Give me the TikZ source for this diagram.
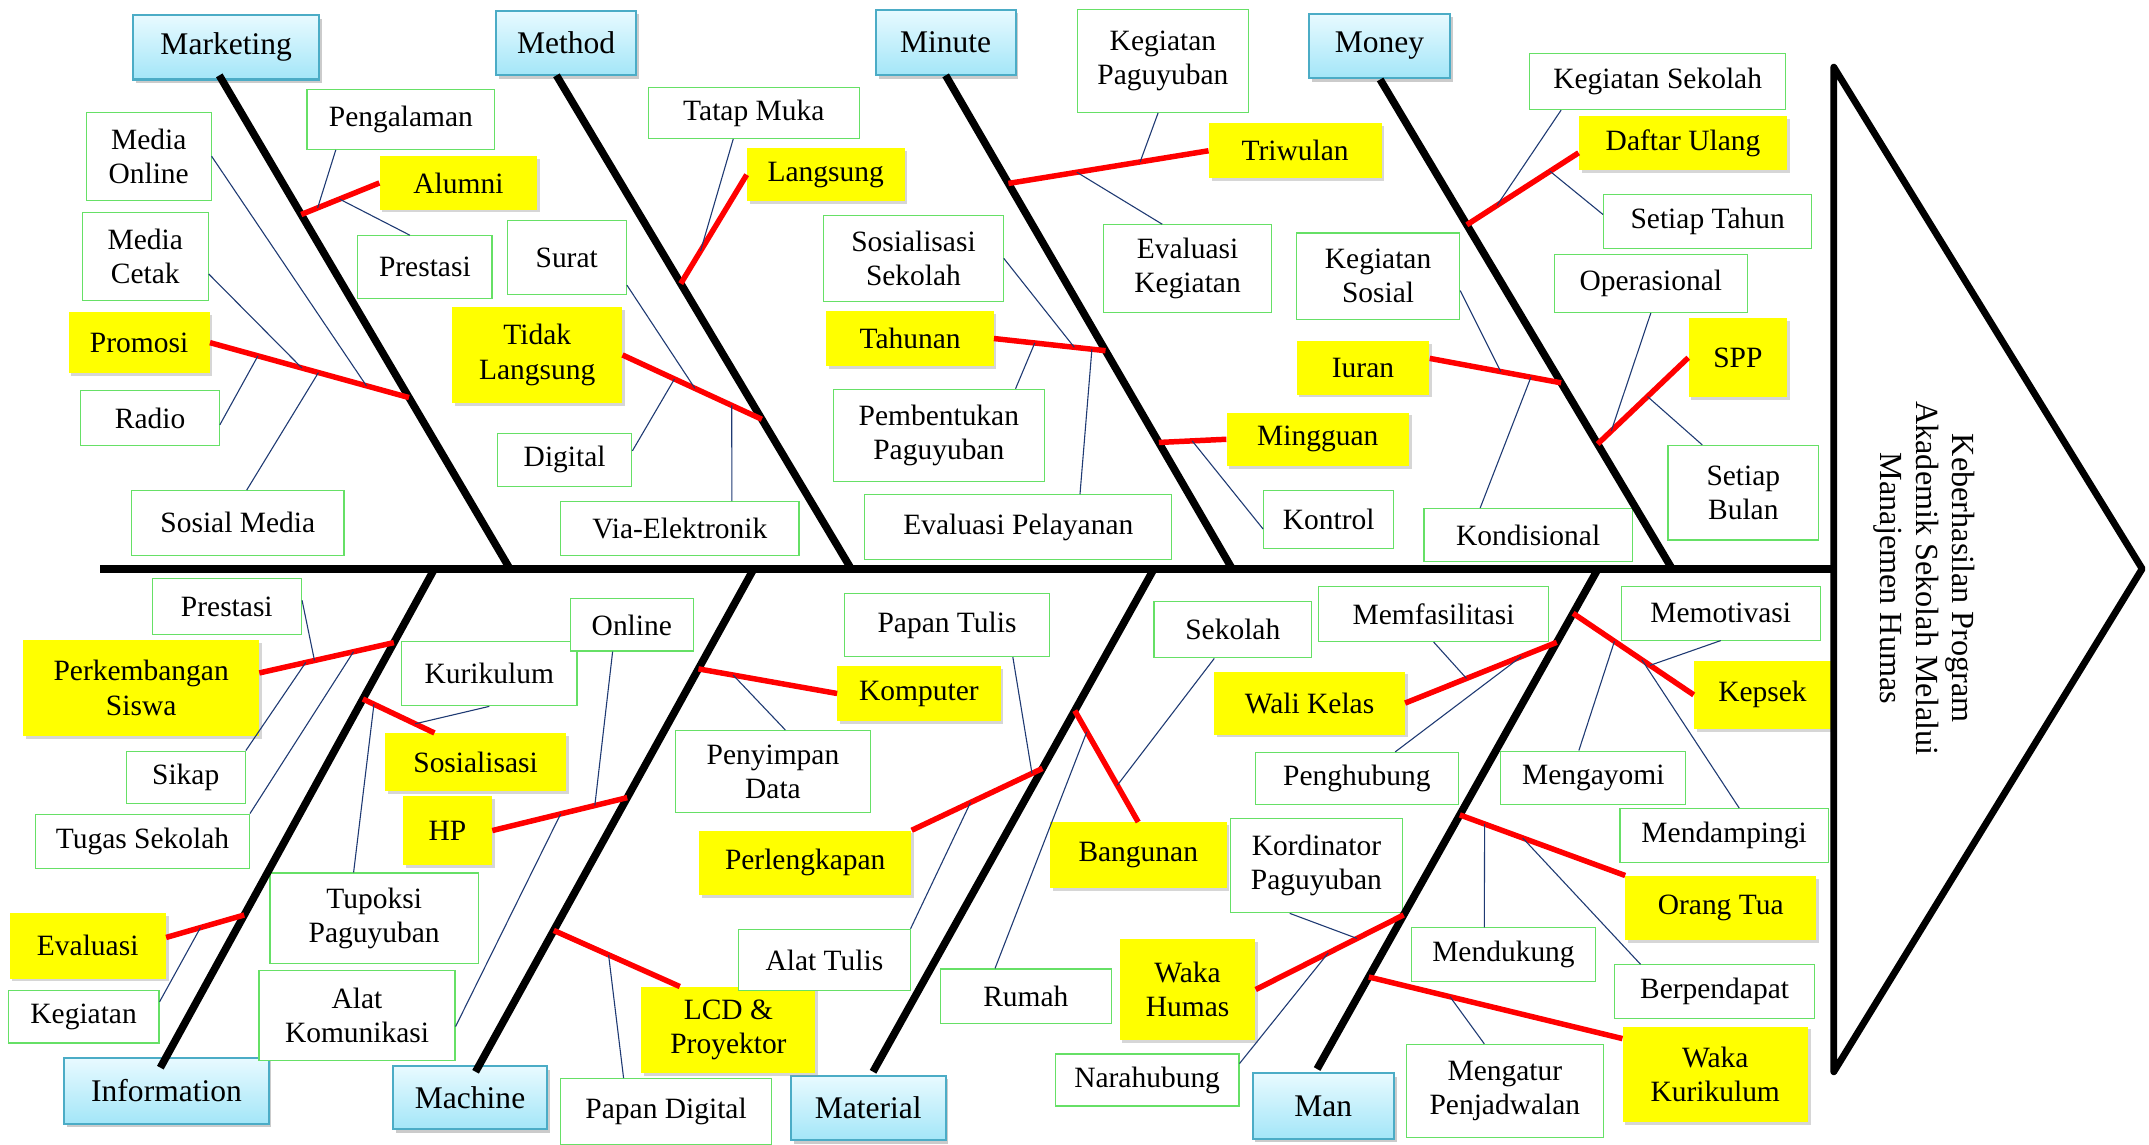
\documentclass[tikz,border=0pt]{standalone}
\usepackage{fontspec}
\setmainfont{Liberation Serif}
\usetikzlibrary{calc,shadows}

\definecolor{catline}{HTML}{4BACC6}
\definecolor{cattop}{HTML}{E8FAFF}
\definecolor{catbot}{HTML}{A3E6F8}
\definecolor{boxline}{HTML}{66E066}
\definecolor{twigblue}{HTML}{1F3A73}
\definecolor{hiyellow}{HTML}{FFFF00}

\tikzset{
  txt/.style={align=center, inner sep=0pt, font=\fontsize{21.5}{25}\selectfont},
  sz/.style 2 args={minimum width=#1, minimum height=#2},
  cat/.style={txt, font=\fontsize{23}{26}\selectfont, draw=catline, line width=1.5pt,
    top color=cattop, bottom color=catbot,
    drop shadow={shadow xshift=2pt, shadow yshift=-2.5pt, fill=black!45, opacity=.45}},
  sub/.style={txt, draw=boxline, line width=0.8pt, fill=white},
  hot/.style={txt, fill=hiyellow,
    drop shadow={shadow xshift=2pt, shadow yshift=-2pt, fill=black!40, opacity=.4}},
  bone/.style={line width=5.5pt, black},
  redbone/.style={line width=4pt, red},
  twig/.style={line width=0.8pt, twigblue},
}

\begin{document}
\begin{tikzpicture}[x=1pt, y=-1pt]
  \useasboundingbox (0,0) rectangle (1568,835);

  % Categories
  \node[cat, sz={136}{47}] (marketing) at (165,34.5) {Marketing};
  \node[cat, sz={102}{47}] (method) at (413,31.5) {Method};
  \node[cat, sz={102}{48}] (minute) at (690,31) {Minute};
  \node[cat, sz={103}{47}] (money) at (1006.5,33.5) {Money};
  \node[cat, sz={149}{48}] (information) at (121.5,796) {Information};
  \node[cat, sz={112}{46}] (machine) at (343,801) {Machine};
  \node[cat, sz={113}{47}] (material) at (633.5,808.5) {Material};
  \node[cat, sz={103}{48}] (man) at (965.5,807) {Man};

  % Marketing
  \node[sub, sz={91}{64}] (mediaonline) at (108.5,114) {Media\\Online};
  \node[sub, sz={92}{64}] (mediacetak) at (106,187) {Media\\Cetak};
  \node[hot, sz={103}{44}] (promosi) at (101.5,250) {Promosi};
  \node[sub, sz={101}{40}] (radio) at (109.5,305) {Radio};
  \node[sub, sz={155}{47}] (sosialmedia) at (173.5,381.5) {Sosial Media};
  \node[sub, sz={137}{44}] (pengalaman) at (292.5,87) {Pengalaman};
  \node[hot, sz={115}{39}] (alumni) at (334.5,133.5) {Alumni};
  \node[sub, sz={98}{46}] (mkprestasi) at (310,195) {Prestasi};

  % Method
  \node[sub, sz={154}{37}] (tatapmuka) at (550,82.5) {Tatap Muka};
  \node[hot, sz={115}{39}] (langsung) at (602.5,127.5) {Langsung};
  \node[sub, sz={87}{54}] (surat) at (413.5,188) {Surat};
  \node[hot, sz={124}{70}] (tidaklangsung) at (392,259) {Tidak\\Langsung};
  \node[sub, sz={98}{39}] (digital) at (412,335.5) {Digital};
  \node[sub, sz={174}{39}] (viaelektronik) at (496,385.5) {Via-Elektronik};

  % Minute
  \node[sub, sz={125}{75}] (kegpaguyuban) at (848.5,44.5) {Kegiatan\\Paguyuban};
  \node[hot, sz={126}{40}] (triwulan) at (945,110) {Triwulan};
  \node[sub, sz={123}{64}] (evalkegiatan) at (866.5,196) {Evaluasi\\Kegiatan};
  \node[sub, sz={131}{63}] (sossekolah) at (666.5,188.5) {Sosialisasi\\Sekolah};
  \node[hot, sz={122}{40}] (tahunan) at (664,247) {Tahunan};
  \node[sub, sz={154}{67}] (pembentukan) at (685,317.5) {Pembentukan\\Paguyuban};
  \node[sub, sz={224}{47}] (evalpelayanan) at (743,384.5) {Evaluasi Pelayanan};
  \node[hot, sz={133}{39}] (mingguan) at (961.5,320.5) {Mingguan};
  \node[sub, sz={95}{42}] (kontrol) at (969.5,379) {Kontrol};

  % Money
  \node[sub, sz={119}{63}] (kegsosial) at (1005.5,201.5) {Kegiatan\\Sosial};
  \node[hot, sz={97}{39}] (iuran) at (994.5,268.5) {Iuran};
  \node[sub, sz={152}{39}] (kondisional) at (1115,390.5) {Kondisional};
  \node[sub, sz={187}{41}] (kegsekolah) at (1209.5,59.5) {Kegiatan Sekolah};
  \node[hot, sz={152}{39}] (daftarulang) at (1228,104.5) {Daftar Ulang};
  \node[sub, sz={152}{39}] (setiaptahun) at (1246,161.5) {Setiap Tahun};
  \node[sub, sz={141}{42}] (operasional) at (1204.5,207) {Operasional};
  \node[hot, sz={72}{58}] (spp) at (1268,261) {SPP};
  \node[sub, sz={110}{69}] (setiapbulan) at (1272,359.5) {Setiap\\Bulan};

  % Information
  \node[sub, sz={109}{41}] (inprestasi) at (165.5,442.5) {Prestasi};
  \node[hot, sz={172}{70}] (perkembangan) at (103,502) {Perkembangan\\Siswa};
  \node[sub, sz={87}{38}] (sikap) at (135.5,567) {Sikap};
  \node[sub, sz={156}{40}] (tugassekolah) at (104,614) {Tugas Sekolah};
  \node[hot, sz={114}{48}] (evaluasi) at (64,690) {Evaluasi};
  \node[sub, sz={110}{38}] (kegiatan) at (61,742) {Kegiatan};
  \node[hot, sz={132}{42}] (sosialisasi) at (347,556) {Sosialisasi};

  % Machine
  \node[sub, sz={128}{47}] (kurikulum) at (357,491.5) {Kurikulum};
  \node[sub, sz={90}{38}] (online) at (461,456) {Online};
  \node[hot, sz={65}{50}] (hp) at (326.5,606) {HP};
  \node[sub, sz={152}{66}] (tupoksi) at (273,670) {Tupoksi\\Paguyuban};
  \node[sub, sz={143}{66}] (alatkom) at (260.5,741) {Alat\\Komunikasi};
  \node[hot, sz={127}{63}] (lcd) at (531.5,751.5) {LCD \&\\Proyektor};
  \node[sub, sz={154}{48}] (papandigital) at (486,811) {Papan Digital};

  % Material
  \node[sub, sz={150}{46}] (papantulis) at (691,456) {Papan Tulis};
  \node[hot, sz={119}{40}] (komputer) at (670.5,506) {Komputer};
  \node[sub, sz={142}{60}] (penyimpan) at (564,563) {Penyimpan\\Data};
  \node[hot, sz={155}{47}] (perlengkapan) at (587.5,629.5) {Perlengkapan};
  \node[sub, sz={125}{45}] (alattulis) at (601.5,700.5) {Alat Tulis};
  \node[sub, sz={125}{40}] (rumah) at (748.5,727) {Rumah};
  \node[hot, sz={129}{48}] (bangunan) at (830.5,624) {Bangunan};
  \node[sub, sz={115}{41}] (sekolah) at (899.5,459.5) {Sekolah};

  % Man
  \node[sub, sz={168}{40}] (memfasilitasi) at (1046,448) {Memfasilitasi};
  \node[hot, sz={139}{46}] (walikelas) at (955.5,513) {Wali Kelas};
  \node[sub, sz={148}{38}] (penghubung) at (990,568) {Penghubung};
  \node[sub, sz={125}{69}] (kordinator) at (960.5,631.5) {Kordinator\\Paguyuban};
  \node[hot, sz={99}{74}] (wakahumas) at (866.5,722) {Waka\\Humas};
  \node[sub, sz={134}{38}] (narahubung) at (837,788) {Narahubung};
  \node[sub, sz={145}{39}] (memotivasi) at (1255.5,447.5) {Memotivasi};
  \node[hot, sz={100}{50}] (kepsek) at (1286,507) {Kepsek};
  \node[sub, sz={135}{39}] (mengayomi) at (1162.5,567.5) {Mengayomi};
  \node[sub, sz={152}{39}] (mendampingi) at (1258,609.5) {Mendampingi};
  \node[hot, sz={139}{47}] (orangtua) at (1255.5,662.5) {Orang Tua};
  \node[sub, sz={134}{39}] (mendukung) at (1097,696.5) {Mendukung};
  \node[sub, sz={146}{39}] (berpendapat) at (1251,723.5) {Berpendapat};
  \node[sub, sz={144}{68}] (mengatur) at (1098,796) {Mengatur\\Penjadwalan};
  \node[hot, sz={135}{70}] (wakakurikulum) at (1251.5,784) {Waka\\Kurikulum};

  % Head
  \node[rotate=-90, align=center, font=\fontsize{23.5}{26}\selectfont] (effect) at (1404,422)
    {Keberhasilan Program\\Akademik Sekolah Melalui\\Manajemen Humas};
  \coordinate (headtop) at (1338,49);
  \coordinate (headtip) at (1563,415);
  \coordinate (headbot) at (1338,782);
  \draw[line width=5pt, line join=round] (headtop) -- (headtip) -- (headbot) -- cycle;

  % Spine and bones
  \coordinate (tail) at (73,415);
  \coordinate (neck) at (1338,415);
  \draw[bone] (tail) -- (neck);
  \coordinate (mkA) at (160,55);   \coordinate (mkB) at (372,415);
  \coordinate (mtA) at (406,55);   \coordinate (mtB) at (621,415);
  \coordinate (mnA) at (690,55);   \coordinate (mnB) at (899,415);
  \coordinate (moA) at (1007,58);  \coordinate (moB) at (1220,415);
  \coordinate (inA) at (317,415);  \coordinate (inB) at (117,779);
  \coordinate (maA) at (550,415);  \coordinate (maB) at (347,782);
  \coordinate (mlA) at (842,415);  \coordinate (mlB) at (637,782);
  \coordinate (mA) at (1166,415);  \coordinate (mB) at (961,780);

  % Marketing
  \draw[bone] (mkA) -- coordinate[pos=.282] (mk1) coordinate[pos=.653] (mk2) (mkB);
  \draw[redbone] (promosi.east) -- coordinate[pos=.241] (pr1) coordinate[pos=.462] (pr2)
    coordinate[pos=.545] (pr3) coordinate[pos=.786] (pr4) (mk2);
  \draw[twig] ([yshift=-5]radio.east) -- (pr1);
  \draw[twig] ([yshift=-13]mediacetak.east) -- (pr2);
  \draw[twig] ([xshift=6.5]sosialmedia.north) -- (pr3);
  \draw[twig] (mediaonline.east) -- (pr4);
  \draw[redbone] (alumni.west) -- coordinate[pos=.51] (al1) coordinate[pos=.79] (al2) (mk1);
  \draw[twig] ([xshift=-11]mkprestasi.north) -- (al1);
  \draw[twig] ([xshift=-47.5]pengalaman.south) -- (al2);

  % Method
  \draw[bone] (mtA) -- coordinate[pos=.422] (mt1) coordinate[pos=.697] (mt2) (mtB);
  \draw[redbone] (langsung.west) -- coordinate[pos=.70] (ls1) (mt1);
  \draw[twig] ([xshift=-15]tatapmuka.south) -- (ls1);
  \draw[redbone] (tidaklangsung.east) -- coordinate[pos=.373] (tl1) coordinate[pos=.52] (tl2)
    coordinate[pos=.784] (tl3) (mt2);
  \draw[twig] ([yshift=6.5]digital.east) -- (tl1);
  \draw[twig] ([yshift=-20]surat.east) -- (tl2);
  \draw[twig] ([xshift=38]viaelektronik.north) -- (tl3);

  % Minute
  \draw[bone] (mnA) -- coordinate[pos=.219] (mn1) coordinate[pos=.558] (mn2)
    coordinate[pos=.744] (mn3) (mnB);
  \draw[redbone] (triwulan.west) -- coordinate[pos=.342] (tw1) coordinate[pos=.658] (tw2) (mn1);
  \draw[twig] ([xshift=-3.5]kegpaguyuban.south) -- (tw1);
  \draw[twig] ([xshift=-18.5]evalkegiatan.north) -- (tw2);
  \draw[redbone] (tahunan.east) -- coordinate[pos=.366] (th1) coordinate[pos=.72] (th2)
    coordinate[pos=.878] (th3) (mn2);
  \draw[twig] ([xshift=56]pembentukan.north) -- (th1);
  \draw[twig] (sossekolah.east) -- (th2);
  \draw[twig] ([xshift=45]evalpelayanan.north) -- (th3);
  \draw[redbone] (mingguan.west) -- coordinate[pos=.506] (mg1) (mn3);
  \draw[twig] ([yshift=-7]kontrol.west) -- (mg1);

  % Money
  \draw[bone] (moA) -- coordinate[pos=.297] (mo1) coordinate[pos=.62] (mo2)
    coordinate[pos=.745] (mo3) (moB);
  \draw[redbone] ([yshift=-7]daftarulang.west) -- coordinate[pos=.256] (du1)
    coordinate[pos=.73] (du2) (mo1);
  \draw[twig] ([yshift=5]setiaptahun.west) -- (du1);
  \draw[twig] ([xshift=-70.5]kegsekolah.south) -- (du2);
  \draw[redbone] ([yshift=7]iuran.east) -- coordinate[pos=.54] (iu1) coordinate[pos=.77] (iu2) (mo2);
  \draw[twig] ([yshift=-10.5]kegsosial.east) -- (iu1);
  \draw[twig] ([xshift=-35]kondisional.north) -- (iu2);
  \draw[redbone] (spp.west) -- coordinate[pos=.45] (sp1) coordinate[pos=.85] (sp2) (mo3);
  \draw[twig] ([xshift=-30]setiapbulan.north) -- (sp1);
  \draw[twig] (operasional.south) -- (sp2);

  % Information
  \draw[bone] (inA) -- coordinate[pos=.148] (in1) coordinate[pos=.261] (in2)
    coordinate[pos=.694] (in3) (inB);
  \draw[redbone] ([yshift=11]perkembangan.east) -- coordinate[pos=.345] (pk1)
    coordinate[pos=.41] (pk2) coordinate[pos=.70] (pk3) (in1);
  \draw[twig] (sikap.north east) -- (pk1);
  \draw[twig] ([yshift=4.5]inprestasi.east) -- (pk2);
  \draw[twig] (tugassekolah.north east) -- (pk3);
  \draw[redbone] ([xshift=-30]sosialisasi.north) -- coordinate[pos=.27] (so1)
    coordinate[pos=.846] (so2) (in2);
  \draw[twig] (kurikulum.south) -- (so1);
  \draw[twig] ([xshift=-15]tupoksi.north) -- (so2);
  \draw[redbone] ([yshift=6]evaluasi.east) -- coordinate[pos=.44] (ev1) (in3);
  \draw[twig] ([yshift=11]kegiatan.east) -- (ev1);

  % Machine
  \draw[bone] (maA) -- coordinate[pos=.199] (ma1) coordinate[pos=.455] (ma2)
    coordinate[pos=.719] (ma3) (maB);
  \draw[redbone] (hp.east) -- coordinate[pos=.507] (hp1) coordinate[pos=.76] (hp2) (ma2);
  \draw[twig] ([yshift=-8]alatkom.east) -- (hp1);
  \draw[twig] ([xshift=-14]online.south) -- (hp2);
  \draw[redbone] ([xshift=-35.5]lcd.north) -- coordinate[pos=.565] (lc1) (ma3);
  \draw[twig] ([xshift=-31]papandigital.north) -- (lc1);
  \draw[redbone] (komputer.west) -- coordinate[pos=.75] (km1) (ma1);
  \draw[twig] ([xshift=9]penyimpan.north) -- (km1);

  % Material
  \draw[bone] (mlA) -- coordinate[pos=.282] (ml1) coordinate[pos=.397] (ml2) (mlB);
  \draw[redbone] (perlengkapan.north east) -- coordinate[pos=.45] (pl1)
    coordinate[pos=.92] (pl2) (ml2);
  \draw[twig] (alattulis.north east) -- (pl1);
  \draw[twig] ([xshift=48]papantulis.south) -- (pl2);
  \draw[redbone] (bangunan.north) -- coordinate[pos=.33] (bg1) coordinate[pos=.81] (bg2) (ml1);
  \draw[twig] ([xshift=-13.5]sekolah.south) -- (bg1);
  \draw[twig] ([xshift=-22.5]rumah.north) -- (bg2);

  % Man
  \draw[bone] (mA) -- coordinate[pos=.089] (m1) coordinate[pos=.147] (m2) coordinate[pos=.492] (m3)
    coordinate[pos=.692] (m4) coordinate[pos=.816] (m5) (mB);
  \draw[redbone] (kepsek.west) -- coordinate[pos=.362] (ks1) coordinate[pos=.43] (ks2)
    coordinate[pos=.657] (ks3) (m1);
  \draw[twig] (memotivasi.south) -- (ks1);
  \draw[twig] ([xshift=11]mendampingi.north) -- (ks2);
  \draw[twig] ([xshift=-10.5]mengayomi.north) -- (ks3);
  \draw[redbone] (walikelas.east) -- coordinate[pos=.405] (wk1) coordinate[pos=.766] (wk2) (m2);
  \draw[twig] (memfasilitasi.south) -- (wk1);
  \draw[twig] ([xshift=28]penghubung.north) -- (wk2);
  \draw[redbone] (orangtua.north west) -- coordinate[pos=.62] (ot1) coordinate[pos=.85] (ot2) (m3);
  \draw[twig] ([xshift=-54]berpendapat.north) -- (ot1);
  \draw[twig] ([xshift=-14]mendukung.north) -- (ot2);
  \draw[redbone] (wakahumas.east) -- coordinate[pos=.49] (wh1) coordinate[pos=.685] (wh2) (m4);
  \draw[twig] ([yshift=12]narahubung.east) -- (wh1);
  \draw[twig] ([xshift=-19.5]kordinator.south) -- (wh2);
  \draw[redbone] ([yshift=-9]wakakurikulum.north west) -- coordinate[pos=.68] (wr1) (m5);
  \draw[twig] ([xshift=-15]mengatur.north) -- (wr1);
\end{tikzpicture}
\end{document}
